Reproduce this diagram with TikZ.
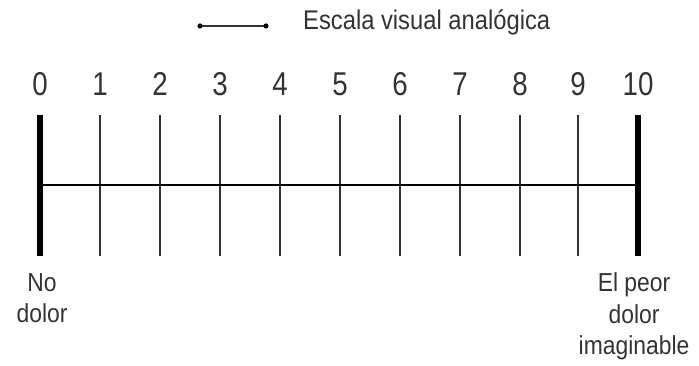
\documentclass[tikz,border=0pt]{standalone}
\usepackage{fontspec}
\setmainfont{Liberation Sans}
\newfontfamily\narrowfont{Liberation Sans}[FakeStretch=0.88]
\newfontfamily\digitfont{Liberation Sans}[FakeStretch=0.84]
\usepackage{tikz}
\usetikzlibrary{positioning, calc}
\definecolor{InkGrey}{HTML}{333333}
\tikzstyle{tick} = [line width=1.6pt, color=InkGrey]
\tikzstyle{endtick} = [line width=6pt, color=black]
\tikzstyle{axis} = [line width=1.6pt, color=black]
\tikzstyle{number} = [anchor=base, text=InkGrey, font=\digitfont\fontsize{33}{33}\selectfont, inner sep=0pt]
\tikzstyle{caption} = [anchor=base, text=InkGrey, font=\narrowfont\fontsize{26}{31.5}\selectfont, inner sep=0pt, align=center]

\begin{document}
\begin{tikzpicture}[x=1pt, y=1pt]
        \useasboundingbox (0,0) rectangle (699,366);

        % Legend
        \coordinate (legA) at (200,340);
        \coordinate (legB) at (266,340);
        \draw [line width=1.3pt, color=InkGrey] (legA) -- (legB);
        \fill (legA) circle (2.6);
        \fill (legB) circle (2.6);
        \node [anchor=base west, text=InkGrey, font=\narrowfont\fontsize{27}{27}\selectfont, inner sep=0pt] (legend) at (303,336) {Escala visual anal\'ogica};

        % Ticks
        \foreach \i/\x in {0/40,1/100,2/160,3/220,4/280,5/340,6/400,7/460,8/520,9/578,10/638} {
            \coordinate (top\i) at (\x,251);
            \coordinate (mid\i) at (\x,181);
            \coordinate (bot\i) at (\x,110);
            \node [number] (num\i) at (\x,270) {\i};
        }
        \foreach \i in {1,...,9}
            \draw [tick] (top\i) -- (bot\i);
        \draw [endtick] (top0) -- (bot0);
        \draw [endtick] (top10) -- (bot10);

        % Scale line
        \draw [axis] (mid0) -- (mid10);

        % Ends
        \node [caption] (low) at (42,43) {No\\dolor};
        \node [caption] (high) at (634,11) {El peor\\dolor\\imaginable};
    \end{tikzpicture}
\end{document}
